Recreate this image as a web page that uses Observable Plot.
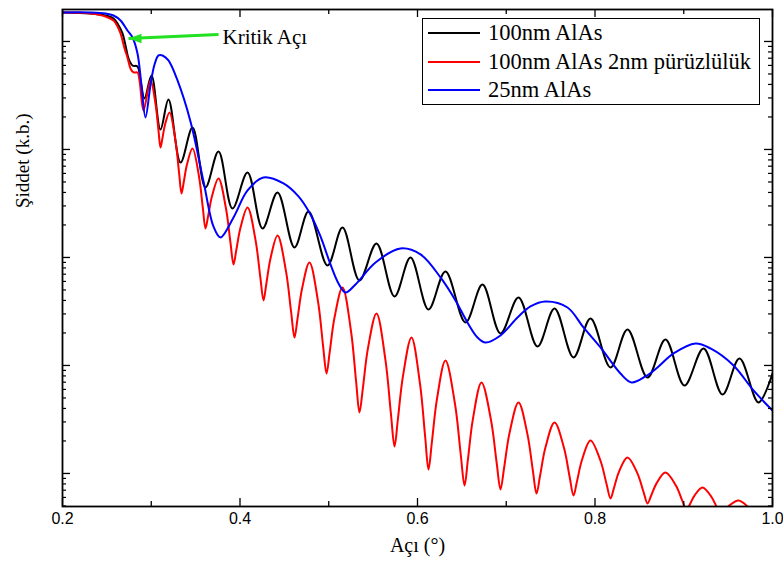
<!DOCTYPE html>
<html><head><meta charset="utf-8">
<script src="https://cdn.jsdelivr.net/npm/d3@7"></script>
<script src="https://cdn.jsdelivr.net/npm/@observablehq/plot@0.6"></script>
<style>
body{margin:0;background:#fff;}
#wrap{position:relative;width:783px;height:576px;}
.legend{position:absolute;left:422px;top:18px;width:338px;height:87px;border:1.5px solid #000;background:#fff;box-sizing:border-box;font-family:"Liberation Serif","Times New Roman",serif;font-size:22.5px;color:#000;}
.row{position:absolute;left:0;height:28px;display:flex;align-items:center;white-space:nowrap;}
.sw{width:52px;height:0;border-top:2px solid;margin-left:5px;margin-right:8px;}
</style></head>
<body><div id="wrap"></div>
<script>
// Series names and colours
const seriesNames = ["100nm AlAs", "100nm AlAs 2nm pürüzlülük", "25nm AlAs"];
const seriesColors = ["#000000", "#ff0000", "#0000ff"];

// 100nm AlAs : angle (deg) and log10 intensity (a.u.)
const angleBlack = [0.2000,0.2315,0.2485,0.2575,0.2620,0.2676,0.2710,0.2744,0.2789,0.2845,0.2879,0.2924,0.3003,0.3104,0.3194,0.3330,0.3465,0.3611,0.3758,0.3915,0.4085,0.4254,0.4423,0.4614,0.4772,0.4986,0.5155,0.5346,0.5538,0.5741,0.5921,0.6124,0.6315,0.6541,0.6732,0.6935,0.7138,0.7352,0.7544,0.7758,0.7949,0.8175,0.8366,0.8592,0.8794,0.9008,0.9223,0.9437,0.9628,0.9842,1.0000];
const logIBlack = [0.2685,0.2593,0.2407,0.2130,0.1667,0.0741,-0.0370,-0.1574,-0.2222,-0.2315,-0.3611,-0.5278,-0.3148,-0.8148,-0.5370,-1.1204,-0.7963,-1.3519,-1.0185,-1.5463,-1.2130,-1.7315,-1.3981,-1.9074,-1.5741,-2.0741,-1.7222,-2.2130,-1.8704,-2.3611,-2.0000,-2.4815,-2.1296,-2.6019,-2.2500,-2.7037,-2.3704,-2.8241,-2.4722,-2.9259,-2.5648,-3.0185,-2.6667,-3.1111,-2.7593,-3.1852,-2.8426,-3.2685,-2.9352,-3.3426,-3.0741];

// 100nm AlAs 2nm roughness
const angleRed = [0.2000,0.2315,0.2485,0.2575,0.2620,0.2654,0.2699,0.2732,0.2766,0.2800,0.2845,0.2868,0.2913,0.2992,0.3048,0.3082,0.3104,0.3125,0.3155,0.3206,0.3273,0.3314,0.3341,0.3366,0.3403,0.3465,0.3538,0.3582,0.3611,0.3641,0.3685,0.3758,0.3842,0.3893,0.3927,0.3958,0.4006,0.4085,0.4175,0.4229,0.4265,0.4296,0.4344,0.4423,0.4518,0.4576,0.4614,0.4648,0.4699,0.4783,0.4879,0.4936,0.4975,0.5011,0.5065,0.5155,0.5251,0.5308,0.5346,0.5385,0.5442,0.5538,0.5639,0.5700,0.5741,0.5779,0.5837,0.5932,0.6028,0.6086,0.6124,0.6162,0.6220,0.6315,0.6423,0.6487,0.6530,0.6568,0.6625,0.6721,0.6828,0.6892,0.6935,0.6976,0.7037,0.7138,0.7239,0.7300,0.7341,0.7381,0.7442,0.7544,0.7651,0.7715,0.7758,0.7796,0.7854,0.7949,0.8062,0.8130,0.8175,0.8213,0.8270,0.8366,0.8479,0.8547,0.8592,0.8632,0.8693,0.8794,0.8913,0.8984,0.9031,0.9067,0.9121,0.9211,0.9313,0.9374,0.9414,0.9455,0.9516,0.9617,0.9718,0.9779,0.9820,1.0000];
const logIRed = [0.2685,0.2593,0.2315,0.1944,0.1389,0.0741,-0.0648,-0.1481,-0.2500,-0.2870,-0.2870,-0.3611,-0.6389,-0.3611,-0.5787,-0.8269,-0.9815,-0.9009,-0.7713,-0.6574,-0.9204,-1.2204,-1.4074,-1.3037,-1.1370,-0.9907,-1.2500,-1.5463,-1.7315,-1.6157,-1.4306,-1.2685,-1.5472,-1.8657,-2.0648,-1.9333,-1.7222,-1.5370,-1.8389,-2.1833,-2.3981,-2.2481,-2.0074,-1.7963,-2.1269,-2.5046,-2.7407,-2.5676,-2.2898,-2.0463,-2.4065,-2.8176,-3.0741,-2.8750,-2.5565,-2.2778,-2.6833,-3.1463,-3.4352,-3.2065,-2.8398,-2.5185,-2.9500,-3.4426,-3.7500,-3.4981,-3.0944,-2.7407,-3.1685,-3.6574,-3.9630,-3.7111,-3.3074,-2.9537,-3.3593,-3.8222,-4.1111,-3.8731,-3.4917,-3.1574,-3.5046,-3.9009,-4.1481,-3.9472,-3.6250,-3.3426,-3.6380,-3.9750,-4.1852,-4.0213,-3.7583,-3.5278,-3.7648,-4.0352,-4.2037,-4.0769,-3.8731,-3.6944,-3.8824,-4.0972,-4.2315,-4.1370,-3.9852,-3.8519,-4.0009,-4.1713,-4.2778,-4.2065,-4.0917,-3.9907,-4.1139,-4.2546,-4.3426,-4.2898,-4.2046,-4.1296,-4.2176,-4.3176,-4.3796,-4.3472,-4.2954,-4.2500,-4.3056,-4.3685,-4.4074,-4.3611];

// 25nm AlAs
const angleBlue = [0.2000,0.2315,0.2485,0.2575,0.2654,0.2732,0.2789,0.2845,0.2890,0.2935,0.2992,0.3037,0.3082,0.3127,0.3194,0.3296,0.3442,0.3589,0.3701,0.3780,0.3927,0.4085,0.4265,0.4490,0.4659,0.4794,0.4907,0.5020,0.5110,0.5189,0.5301,0.5527,0.5808,0.6034,0.6259,0.6428,0.6563,0.6676,0.6766,0.6935,0.7127,0.7273,0.7442,0.7690,0.7870,0.8062,0.8287,0.8411,0.8569,0.8704,0.8885,0.9132,0.9301,0.9561,0.9786,1.0000];
const logIBlue = [0.2685,0.2685,0.2593,0.2407,0.1944,0.1019,0.0370,-0.1111,-0.4074,-0.7037,-0.3981,-0.2130,-0.1296,-0.1296,-0.1759,-0.3611,-0.7407,-1.2963,-1.7130,-1.8148,-1.6296,-1.3796,-1.2593,-1.3148,-1.4352,-1.6019,-1.8056,-2.0648,-2.2407,-2.3241,-2.2500,-2.0463,-1.9167,-1.9722,-2.1852,-2.3981,-2.6019,-2.7407,-2.7870,-2.7222,-2.5556,-2.4537,-2.4074,-2.4630,-2.6481,-2.8333,-3.0741,-3.1574,-3.1019,-3.0185,-2.8889,-2.7963,-2.8426,-3.0000,-3.2315,-3.4167];

// Axis ticks and labels
const xMajorTicks = [0.2, 0.4, 0.6, 0.8, 1.0];
const xMinorTicks = [0.3, 0.5, 0.7, 0.9];
const yMajorTicks = [1e-4, 1e-3, 1e-2, 1e-1, 1];
const yLogDomain = [-4.306, 0.296];
const xLabel = "Açı (°)";
const yLabel = "Şiddet (k.b.)";

// Annotation: critical angle (angle, log10 intensity)
const annotLabel = "Kritik Açı";
const annotArrow = [{x1: 0.3758, l1: 0.0648, x2: 0.2744, l2: 0.0278}];
const annotText = [{x: 0.3803, l: 0.037}];

const mk = (xs, ls) => xs.map((x, i) => ({angle: x, I: Math.pow(10, ls[i])}));
const dataBlack = mk(angleBlack, logIBlack);
const dataRed = mk(angleRed, logIRed);
const dataBlue = mk(angleBlue, logIBlue);

const yDomain = yLogDomain.map(v => Math.pow(10, v));
const yMinorTicks = [];
for (let e = -5; e <= 0; e++) for (let k = 2; k <= 9; k++) {
  const v = k * Math.pow(10, e);
  if (v >= yDomain[0] && v <= yDomain[1]) yMinorTicks.push(v);
}

const W = 783, H = 576, mL = 62, mR = 11, mT = 9, mB = 70;
const innerW = W - mL - mR, innerH = H - mT - mB;
const serif = "'Liberation Serif','Times New Roman',serif";
const sans = "'Liberation Sans',Arial,sans-serif";
const green = "#22e022";

// arrow head pointing left, tip at local (-7, 0)
const arrowHead = {draw(ctx) { ctx.moveTo(-7, 0); ctx.lineTo(6, -4.8); ctx.lineTo(6, 4.8); ctx.closePath(); }};

const lineOpts = (c) => ({x: "angle", y: "I", stroke: c, strokeWidth: 2, curve: "catmull-rom", clip: true});

const plot = Plot.plot({
  width: W, height: H,
  marginLeft: mL, marginRight: mR, marginTop: mT, marginBottom: mB,
  x: {domain: [0.2, 1.0], axis: null},
  y: {type: "log", domain: yDomain, axis: null},
  style: {background: "white", overflow: "visible"},
  marks: [
    Plot.line(dataBlack, lineOpts(seriesColors[0])),
    Plot.line(dataRed, lineOpts(seriesColors[1])),
    Plot.line(dataBlue, lineOpts(seriesColors[2])),
    // inward ticks
    Plot.tickX(xMajorTicks, {x: d => d, insetTop: innerH - 8, stroke: "black", strokeWidth: 1.3}),
    Plot.tickX(xMajorTicks, {x: d => d, insetBottom: innerH - 8, stroke: "black", strokeWidth: 1.3}),
    Plot.tickX(xMinorTicks, {x: d => d, insetTop: innerH - 5, stroke: "black", strokeWidth: 1.3}),
    Plot.tickX(xMinorTicks, {x: d => d, insetBottom: innerH - 5, stroke: "black", strokeWidth: 1.3}),
    Plot.tickY(yMajorTicks, {y: d => d, insetRight: innerW - 8, stroke: "black", strokeWidth: 1.3}),
    Plot.tickY(yMajorTicks, {y: d => d, insetLeft: innerW - 8, stroke: "black", strokeWidth: 1.3}),
    Plot.tickY(yMinorTicks, {y: d => d, insetRight: innerW - 4, stroke: "black", strokeWidth: 1.2}),
    Plot.tickY(yMinorTicks, {y: d => d, insetLeft: innerW - 4, stroke: "black", strokeWidth: 1.2}),
    Plot.frame({stroke: "black", strokeWidth: 1.8}),
    // x tick labels
    Plot.text(xMajorTicks, {x: d => d, frameAnchor: "bottom", dy: 17, text: d => d.toFixed(1), fontSize: 16, fontFamily: sans, fill: "black"}),
    // axis labels
    Plot.text([xLabel], {frameAnchor: "bottom", dy: 45, text: d => d, fontSize: 20, fontFamily: serif, fill: "black"}),
    Plot.text([yLabel], {frameAnchor: "left", dx: -40, dy: -50, rotate: -90, text: d => d, fontSize: 19, fontFamily: serif, fill: "black"}),
    // annotation
    Plot.link(annotArrow, {x1: "x1", y1: d => Math.pow(10, d.l1), x2: "x2", y2: d => Math.pow(10, d.l2), stroke: green, strokeWidth: 3}),
    Plot.dot(annotArrow, {x: "x2", y: d => Math.pow(10, d.l2), symbol: arrowHead, dx: 7, fill: green, stroke: "none"}),
    Plot.text(annotText, {x: "x", y: d => Math.pow(10, d.l), text: () => annotLabel, textAnchor: "start", fontSize: 21, fontFamily: serif, fill: "black"})
  ]
});

const wrap = document.getElementById("wrap");
wrap.appendChild(plot);

// legend inside the plot (HTML overlay)
const leg = document.createElement("div");
leg.className = "legend";
const rowTops = [0, 29, 57];
seriesNames.forEach((name, i) => {
  const row = document.createElement("div");
  row.className = "row";
  row.style.top = rowTops[i] + "px";
  const sw = document.createElement("span");
  sw.className = "sw";
  sw.style.borderTopColor = seriesColors[i];
  const tx = document.createElement("span");
  tx.textContent = name;
  row.appendChild(sw); row.appendChild(tx);
  leg.appendChild(row);
});
wrap.appendChild(leg);
</script>
</body></html>
